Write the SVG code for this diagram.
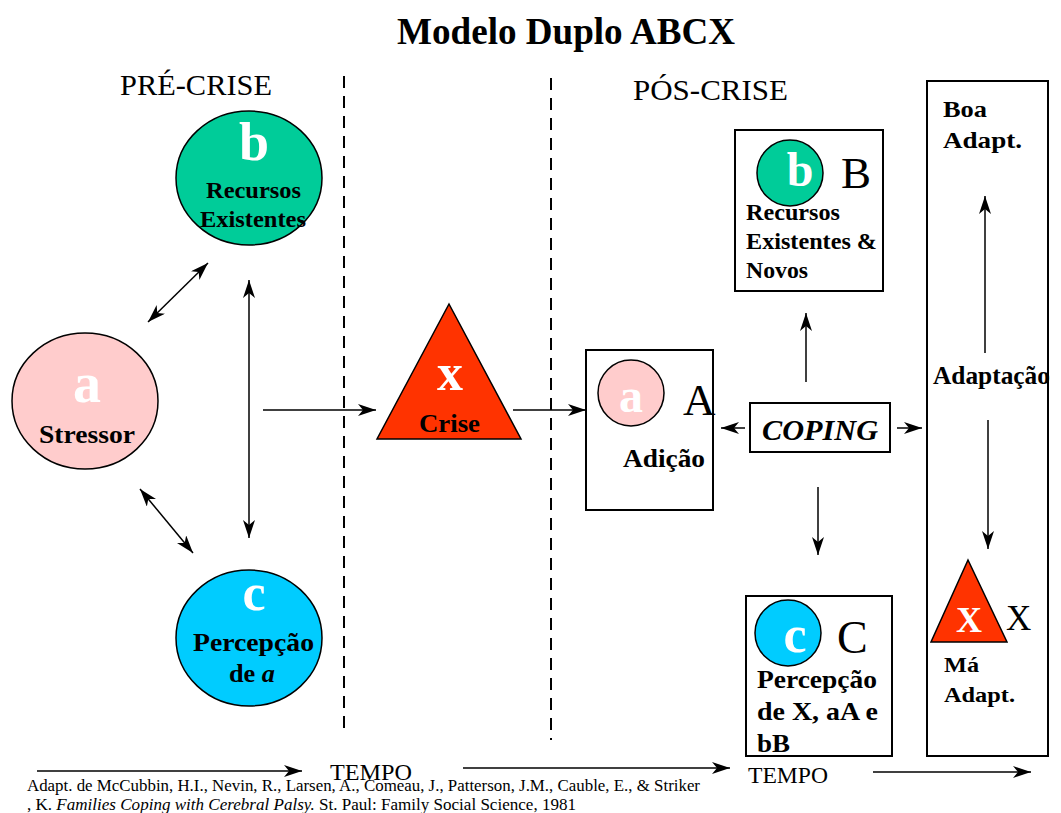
<svg xmlns="http://www.w3.org/2000/svg" width="1061" height="813" viewBox="0 0 1061 813">
<style>
.serif{font-family:"Liberation Serif","Times New Roman",serif;fill:#000;}
.b{font-family:"Liberation Serif","Times New Roman",serif;font-weight:bold;fill:#000;}
.w{font-family:"Liberation Serif","Times New Roman",serif;font-weight:bold;fill:#fff;}
.ln{stroke:#000;stroke-width:1.5;fill:none;}
.box{fill:#fff;stroke:#000;stroke-width:2;}
.dash{stroke:#000;stroke-width:2;stroke-dasharray:12,8;fill:none;}
</style>
<defs>
<marker id="ah" viewBox="0 0 18 12" refX="18" refY="6" markerWidth="18" markerHeight="12" markerUnits="userSpaceOnUse" orient="auto-start-reverse">
<path d="M0,0 L18,6 L0,12 L5,6 z" fill="#000"/>
</marker>
</defs>
<rect width="1061" height="813" fill="#fff"/>

<text class="b" x="566" y="44" font-size="37" text-anchor="middle" textLength="338" lengthAdjust="spacingAndGlyphs">Modelo Duplo ABCX</text>
<text class="serif" x="120" y="95" font-size="30" textLength="152" lengthAdjust="spacingAndGlyphs">PRÉ-CRISE</text>
<text class="serif" x="633" y="100" font-size="30" textLength="155" lengthAdjust="spacingAndGlyphs">PÓS-CRISE</text>

<line class="dash" x1="344" y1="76" x2="344" y2="735"/>
<line class="dash" x1="551" y1="78" x2="551" y2="740"/>

<g id="node-b">
<ellipse cx="249" cy="178" rx="73" ry="67" fill="#00CC99" stroke="#000" stroke-width="1.5"/>
<text class="w" x="254" y="160" font-size="54" text-anchor="middle">b</text>
<text class="b" x="253.5" y="198" font-size="24" text-anchor="middle" textLength="95" lengthAdjust="spacingAndGlyphs">Recursos</text>
<text class="b" x="253" y="227" font-size="24" text-anchor="middle" textLength="106" lengthAdjust="spacingAndGlyphs">Existentes</text>
</g>

<g id="node-a">
<ellipse cx="85" cy="401" rx="73" ry="68" fill="#FFCCCC" stroke="#000" stroke-width="1.5"/>
<text class="w" x="87" y="402" font-size="56" text-anchor="middle">a</text>
<text class="b" x="87" y="443" font-size="26" text-anchor="middle" textLength="96" lengthAdjust="spacingAndGlyphs">Stressor</text>
</g>

<g id="node-c">
<ellipse cx="249" cy="638" rx="73" ry="68" fill="#00CCFF" stroke="#000" stroke-width="1.5"/>
<text class="w" x="254" y="610" font-size="52" text-anchor="middle">c</text>
<text class="b" x="253.5" y="651" font-size="26" text-anchor="middle" textLength="121" lengthAdjust="spacingAndGlyphs">Percepção</text>
<text class="b" x="252" y="682" font-size="26" text-anchor="middle" textLength="46" lengthAdjust="spacingAndGlyphs">de <tspan font-style="italic">a</tspan></text>
</g>

<g id="node-x">
<polygon points="449,304 521,439 377,439" fill="#FF3300" stroke="#000" stroke-width="1.5"/>
<text class="w" x="450" y="390" font-size="52" text-anchor="middle">x</text>
<text class="b" x="449.5" y="432" font-size="26" text-anchor="middle" textLength="61" lengthAdjust="spacingAndGlyphs">Crise</text>
</g>

<g id="node-aA">
<rect class="box" x="586" y="350" width="127" height="160"/>
<circle cx="631" cy="393" r="33" fill="#FFCCCC" stroke="#000" stroke-width="1.5"/>
<text class="w" x="631" y="412" font-size="48" text-anchor="middle">a</text>
<text class="serif" x="683" y="415" font-size="45">A</text>
<text class="b" x="623" y="467" font-size="26" textLength="82" lengthAdjust="spacingAndGlyphs">Adição</text>
</g>

<g id="node-coping">
<rect class="box" x="750" y="403" width="140" height="49"/>
<text class="b" x="762" y="440" font-size="30" font-style="italic" textLength="116" lengthAdjust="spacingAndGlyphs">COPING</text>
</g>

<g id="node-bB">
<rect class="box" x="735" y="130" width="148" height="161"/>
<circle cx="790" cy="173" r="33" fill="#00CC99" stroke="#000" stroke-width="1.5"/>
<text class="w" x="800" y="186" font-size="48" text-anchor="middle">b</text>
<text class="serif" x="841" y="188" font-size="45">B</text>
<text class="b" x="746" y="220" font-size="24" textLength="94" lengthAdjust="spacingAndGlyphs">Recursos</text>
<text class="b" x="746" y="249" font-size="24" textLength="131" lengthAdjust="spacingAndGlyphs">Existentes &amp;</text>
<text class="b" x="746" y="278" font-size="24" textLength="62" lengthAdjust="spacingAndGlyphs">Novos</text>
</g>

<g id="node-cC">
<rect class="box" x="746" y="596" width="146" height="160"/>
<circle cx="788" cy="633" r="33" fill="#00CCFF" stroke="#000" stroke-width="1.5"/>
<text class="w" x="795" y="652" font-size="52" text-anchor="middle">c</text>
<text class="serif" x="837" y="653" font-size="46">C</text>
<text class="b" x="757" y="688" font-size="26" textLength="120" lengthAdjust="spacingAndGlyphs">Percepção</text>
<text class="b" x="757" y="720" font-size="26" textLength="121" lengthAdjust="spacingAndGlyphs">de X, aA e</text>
<text class="b" x="757" y="752" font-size="26" textLength="33" lengthAdjust="spacingAndGlyphs">bB</text>
</g>

<g id="node-adapt">
<rect class="box" x="927" y="81" width="121" height="675"/>
<text class="b" x="943" y="117" font-size="24" textLength="44" lengthAdjust="spacingAndGlyphs">Boa</text>
<text class="b" x="943" y="148" font-size="24" textLength="79" lengthAdjust="spacingAndGlyphs">Adapt.</text>
<text class="b" x="933" y="384" font-size="26" textLength="117" lengthAdjust="spacingAndGlyphs">Adaptação</text>
<polygon points="968,560 1007,642 931,642" fill="#FF3300" stroke="#000" stroke-width="1.5"/>
<text class="w" x="969" y="632" font-size="36" text-anchor="middle">X</text>
<text class="serif" x="1006" y="630" font-size="35">X</text>
<text class="b" x="944" y="672" font-size="22" textLength="35" lengthAdjust="spacingAndGlyphs">Má</text>
<text class="b" x="944" y="702" font-size="22" textLength="71" lengthAdjust="spacingAndGlyphs">Adapt.</text>
</g>

<g id="connectors">
<line class="ln" x1="148" y1="322" x2="208" y2="263" marker-start="url(#ah)" marker-end="url(#ah)"/>
<line class="ln" x1="140" y1="489" x2="193" y2="553" marker-start="url(#ah)" marker-end="url(#ah)"/>
<line class="ln" x1="249" y1="280" x2="249" y2="538" marker-start="url(#ah)" marker-end="url(#ah)"/>
<line class="ln" x1="263" y1="410" x2="376" y2="410" marker-end="url(#ah)"/>
<line class="ln" x1="513" y1="410" x2="586" y2="410" marker-end="url(#ah)"/>
<line class="ln" x1="745" y1="428" x2="721" y2="428" marker-end="url(#ah)"/>
<line class="ln" x1="897" y1="428" x2="922" y2="428" marker-end="url(#ah)"/>
<line class="ln" x1="806" y1="382" x2="806" y2="313" marker-end="url(#ah)"/>
<line class="ln" x1="818" y1="487" x2="818" y2="555" marker-end="url(#ah)"/>
<line class="ln" x1="985" y1="353" x2="985" y2="196" marker-end="url(#ah)"/>
<line class="ln" x1="988" y1="420" x2="988" y2="549" marker-end="url(#ah)"/>
<line class="ln" x1="37" y1="771" x2="302" y2="771" marker-end="url(#ah)"/>
<line class="ln" x1="463" y1="768" x2="730" y2="768" marker-end="url(#ah)"/>
<line class="ln" x1="873" y1="772" x2="1031" y2="772" marker-end="url(#ah)"/>
</g>

<text class="serif" x="330" y="780" font-size="24" textLength="82" lengthAdjust="spacingAndGlyphs">TEMPO</text>
<text class="serif" x="748" y="783" font-size="24" textLength="80" lengthAdjust="spacingAndGlyphs">TEMPO</text>
<text class="serif" x="27" y="791" font-size="16.5" textLength="673" lengthAdjust="spacingAndGlyphs">Adapt. de McCubbin, H.I., Nevin, R., Larsen, A., Comeau, J., Patterson, J.M., Cauble, E., &amp; Striker</text>
<text class="serif" x="27" y="810" font-size="16.5" textLength="549" lengthAdjust="spacingAndGlyphs">, K. <tspan font-style="italic">Families Coping with Cerebral Palsy.</tspan>  St. Paul:  Family Social Science, 1981</text>
</svg>
